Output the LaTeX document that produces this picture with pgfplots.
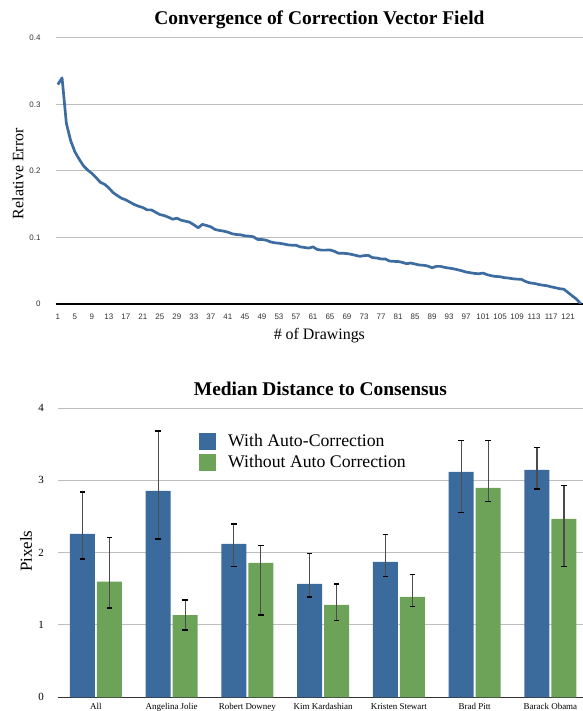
\documentclass[border=0pt]{standalone}
\usepackage{fontspec}
\setmainfont{Liberation Serif}
\setsansfont{Liberation Sans}
\usepackage{pgfplots}
\pgfplotsset{compat=1.18}
\definecolor{cblue}{RGB}{59,106,156}
\definecolor{cgreen}{RGB}{108,163,89}
\definecolor{cline}{RGB}{60,108,160}
\definecolor{cgrid}{RGB}{190,190,190}
\pgfplotsset{myerr/.style={error bars/.cd, y dir=both, y explicit,
  error bar style={line width=1.2bp, black!70},
  error mark options={rotate=90, mark size=2.8bp, line width=1.6bp, black}}}
\pgfplotstableread{
x y
1 0.330
2 0.340
3 0.272
4 0.246
5 0.229
6 0.218
7 0.208
8 0.2015
9 0.1965
10 0.190
11 0.183
12 0.180
13 0.1745
14 0.1675
15 0.163
16 0.159
17 0.1565
18 0.153
19 0.1495
20 0.147
21 0.145
22 0.1415
23 0.1415
24 0.138
25 0.1345
26 0.133
27 0.1305
28 0.1275
29 0.129
30 0.126
31 0.1245
32 0.123
33 0.119
34 0.1147
35 0.1197
36 0.118
37 0.116
38 0.112
39 0.1106
40 0.1096
41 0.108
42 0.1056
43 0.1045
44 0.104
45 0.1025
46 0.102
47 0.101
48 0.097
49 0.097
50 0.096
51 0.0934
52 0.092
53 0.0914
54 0.0904
55 0.089
56 0.0884
57 0.0884
58 0.0859
59 0.085
60 0.084
61 0.0859
62 0.082
63 0.081
64 0.081
65 0.0813
66 0.0793
67 0.0763
68 0.0763
69 0.0758
70 0.0747
71 0.0732
72 0.0717
73 0.0727
74 0.0732
75 0.0697
76 0.0692
77 0.0677
78 0.0677
79 0.0646
80 0.0641
81 0.0639
82 0.0626
83 0.0606
84 0.0616
85 0.0601
86 0.0586
87 0.0583
88 0.0571
89 0.0545
90 0.0566
91 0.0566
92 0.055
93 0.054
94 0.053
95 0.0515
96 0.050
97 0.048
98 0.047
99 0.046
100 0.0455
101 0.0465
102 0.044
103 0.0424
104 0.0414
105 0.041
106 0.0396
107 0.039
108 0.0379
109 0.0374
110 0.0371
111 0.0338
112 0.0318
113 0.031
114 0.0295
115 0.0283
116 0.0275
117 0.0258
118 0.0245
119 0.023
120 0.0222
121 0.0172
122 0.0121
123 0.0071
124 0.000
}\convdata
\begin{document}
\begin{tikzpicture}[x=1bp,y=1bp]
% ---------- top chart ----------
\begin{axis}[
  at={(55.7bp,407bp)}, anchor=south west,
  scale only axis, width=527.3bp, height=266bp,
  xmin=0.5, xmax=124.5, ymin=0, ymax=0.4,
  xtick={1,5,...,121}, ytick={0,0.1,0.2,0.3,0.4},
  axis x line=bottom, axis y line=left,
  x axis line style={-, black, line width=1.2bp},
  y axis line style={draw=none},
  major tick length=0pt,
  ymajorgrids, grid style={cgrid, line width=1bp},
  /pgf/number format/assume math mode=true,
  yticklabel style={/pgf/number format/fixed, /pgf/number format/precision=1},
  tick label style={font=\sffamily\fontsize{8}{8}\selectfont, text=black!80},
  xticklabel style={anchor=center, yshift=-13bp},
  yticklabel style={anchor=east, inner sep=0pt, xshift=-15bp},
  title={Convergence of Correction Vector Field},
  title style={font=\bfseries\fontsize{19.5}{19.5}\selectfont, at={(axis description cs:0.5,1.0526)}, anchor=base, yshift=-6pt},
  xlabel={\# of Drawings},
  xlabel style={font=\fontsize{16}{16}\selectfont, at={(axis description cs:0.5,-0.117)}, anchor=center},
  ylabel={Relative Error},
  ylabel style={font=\fontsize{16}{16}\selectfont, at={(axis description cs:-0.0715,0.49)}, anchor=center},
]
\addplot[cline, line width=2.7bp, line join=round] table[x=x,y=y] {\convdata};
\end{axis}
% ---------- bottom chart ----------
\begin{axis}[
  at={(58bp,13.7bp)}, anchor=south west,
  scale only axis, width=525bp, height=289.3bp,
  xmin=-0.5, xmax=6.43, ymin=0, ymax=4,
  ybar=2bp, bar width=25bp,
  xtick={0,1,2,3,4,5,6},
  xticklabels={All,Angelina Jolie,Robert Downey,Kim Kardashian,Kristen Stewart,Brad Pitt,Barack Obama},
  ytick={0,1,2,3,4},
  axis x line=bottom, axis y line=left,
  x axis line style={-, black!80, line width=1.4bp},
  y axis line style={draw=none},
  major tick length=0pt,
  ymajorgrids, grid style={cgrid, line width=1bp},
  /pgf/number format/assume math mode=true,
  xticklabel style={font=\fontsize{9}{9}\selectfont, anchor=base, yshift=-12.2bp},
  yticklabel style={font=\fontsize{11}{11}\selectfont, anchor=east, inner sep=0pt, xshift=-14bp},
  title={Median Distance to Consensus},
  title style={font=\bfseries\fontsize{19.5}{19.5}\selectfont, at={(axis description cs:0.5,1.0449)}, anchor=base, yshift=-6pt},
  ylabel={Pixels},
  ylabel style={font=\fontsize{17}{17}\selectfont, at={(axis description cs:-0.061,0.505)}, anchor=center},
  legend style={draw=none, fill=none, at={(axis description cs:0.2686,0.917)}, anchor=north west,
    inner sep=0pt, font=\fontsize{17.8}{17.8}\selectfont, row sep=3.5bp,
    /tikz/every odd column/.append style={column sep=10bp}},
  legend cell align=left,
  legend image code/.code={\path[#1, draw=none] (0bp,-8.5bp) rectangle (17bp,8.5bp);},
]
\addplot[fill=cblue, draw=none, myerr] coordinates {
 (0,2.26) += (0,0.58) -= (0,0.346)
 (1,2.855) += (0,0.831) -= (0,0.665)
 (2,2.12) += (0,0.28) -= (0,0.31)
 (3,1.568) += (0,0.422) -= (0,0.178)
 (4,1.873) += (0,0.377) -= (0,0.203)
 (5,3.118) += (0,0.432) -= (0,0.563)
 (6,3.146) += (0,0.309) -= (0,0.266)
};
\addplot[fill=cgreen, draw=none, myerr] coordinates {
 (0,1.60) += (0,0.61) -= (0,0.364)
 (1,1.135) += (0,0.212) -= (0,0.205)
 (2,1.86) += (0,0.24) -= (0,0.72)
 (3,1.277) += (0,0.293) -= (0,0.217)
 (4,1.388) += (0,0.312) -= (0,0.134)
 (5,2.897) += (0,0.653) -= (0,0.19)
 (6,2.468) += (0,0.462) -= (0,0.658)
};
\legend{With Auto-Correction,Without Auto Correction}
\end{axis}
\pgfresetboundingbox
\useasboundingbox (0,0) rectangle (583bp,711bp);
\end{tikzpicture}
\end{document}
